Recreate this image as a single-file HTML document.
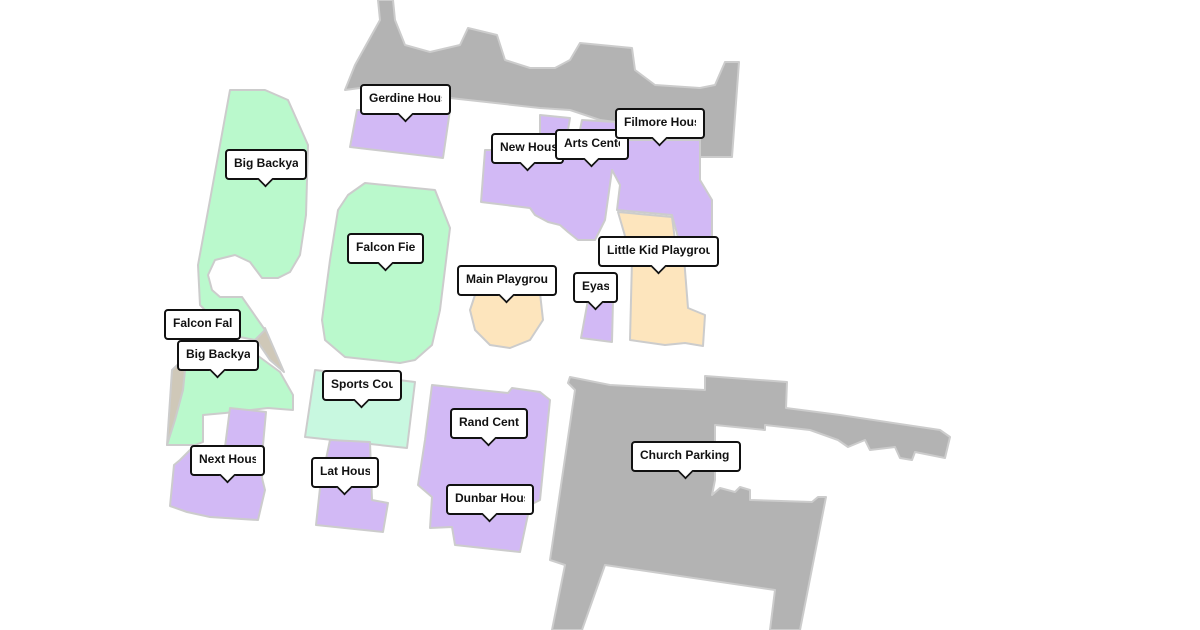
<!DOCTYPE html>
<html><head><meta charset="utf-8"><style>
html,body{margin:0;padding:0;background:#fff;width:1200px;height:630px;overflow:hidden;position:relative;font-family:"Liberation Sans",sans-serif}
svg{position:absolute;left:0;top:0}
.l{position:absolute;background:#fff;border:2px solid #111;border-radius:4px;box-sizing:border-box;height:31px;font-weight:bold;font-size:12px;line-height:25px;padding:0 7px;white-space:nowrap;color:#111}
.l span{display:block;overflow:hidden;width:100%}
.l:after{content:"";position:absolute;left:50%;bottom:-8px;margin-left:-7px;width:11px;height:11px;background:#fff;border-right:2px solid #111;border-bottom:2px solid #111;transform:rotate(45deg) scale(0.85,0.85);transform-origin:center}
.n:after{display:none}
</style></head><body>
<svg width="1200" height="630" viewBox="0 0 1200 630">
<g stroke="#cccccc" stroke-width="2" stroke-linejoin="round">
<polygon fill="#b3b3b3" points="378,0 393,0 395,20 405,45 430,52 460,45 468,28 497,35 505,60 530,68 555,68 570,60 580,43 632,48 635,70 655,85 700,88 715,85 725,62 739,62 732,157 700,157 700,135 660,128 600,120 570,110 540,108 450,98 360,88 345,90 355,65 380,20"/>
<polygon fill="#b3b3b3" points="570,377 610,385 705,390 705,376 787,382 786,408 840,415 940,430 950,437 945,458 915,452 912,460 900,458 895,447 870,450 865,440 848,447 838,440 810,430 765,425 765,430 715,425 715,480 712,495 720,488 735,492 740,487 750,490 750,500 812,502 818,497 826,497 800,630 770,630 775,590 605,565 582,630 552,630 565,565 550,560 575,390 568,383"/>
<polygon fill="#cfc8b8" points="172,370 188,355 182,440 167,445"/>
<polygon fill="#cfc8b8" points="255,338 265,328 284,372 270,360"/>
<polygon fill="#baf9cc" points="230,90 265,90 288,100 308,145 306,215 300,255 290,272 278,278 262,278 250,262 235,255 215,260 208,275 212,290 220,297 242,297 265,330 255,340 230,335 200,305 198,265 210,200"/>
<polygon fill="#baf9cc" points="187,350 250,350 280,372 293,395 293,410 268,408 225,413 203,415 203,442 195,445 167,445 175,420 183,390"/>
<polygon fill="#baf9cc" points="365,183 435,190 450,228 440,310 432,345 415,360 400,363 345,357 325,340 322,320 330,260 338,210 348,195"/>
<polygon fill="#d2b9f5" points="357,110 450,110 443,158 350,147"/>
<polygon fill="#d2b9f5" points="485,150 540,150 540,115 570,118 568,130 580,130 582,120 615,122 618,140 700,140 700,180 712,200 712,240 700,250 680,245 672,215 617,210 620,185 612,170 605,220 595,240 578,240 568,232 560,225 548,222 535,215 530,208 481,202"/>
<polygon fill="#fde5bd" points="618,212 672,217 675,240 683,245 688,308 705,315 703,346 685,343 665,345 630,340 632,260"/>
<polygon fill="#fde5bd" points="475,295 540,293 543,320 530,340 510,348 490,345 475,330 470,310"/>
<polygon fill="#d2b9f5" points="588,300 613,300 612,342 581,338"/>
<polygon fill="#c8f8e0" points="315,370 415,382 407,448 305,437"/>
<polygon fill="#d2b9f5" points="330,440 370,442 372,500 388,503 383,532 316,525 320,488"/>
<polygon fill="#d2b9f5" points="432,385 508,393 512,388 540,392 550,400 540,500 530,505 520,552 455,545 452,527 430,528 432,497 418,485 425,440"/>
<polygon fill="#d2b9f5" points="230,408 266,412 263,445 262,478 265,490 258,520 210,517 187,512 170,506 174,465 180,460 193,447 225,447"/>
</g>
</svg>
<div class="l" style="left:360px;top:84px;width:91px"><span>Gerdine House</span></div>
<div class="l" style="left:225px;top:149px;width:82px"><span>Big Backyard</span></div>
<div class="l" style="left:491px;top:133px;width:73px"><span>New House</span></div>
<div class="l" style="left:555px;top:129px;width:74px"><span>Arts Center</span></div>
<div class="l" style="left:615px;top:108px;width:90px"><span>Filmore House</span></div>
<div class="l" style="left:347px;top:233px;width:77px"><span>Falcon Field</span></div>
<div class="l" style="left:598px;top:236px;width:121px"><span>Little Kid Playground</span></div>
<div class="l" style="left:457px;top:265px;width:100px"><span>Main Playground</span></div>
<div class="l" style="left:573px;top:272px;width:45px"><span>Eyas</span></div>
<div class="l n" style="left:164px;top:309px;width:77px"><span>Falcon Falls</span></div>
<div class="l" style="left:177px;top:340px;width:82px"><span>Big Backyard</span></div>
<div class="l" style="left:322px;top:370px;width:80px"><span>Sports Court</span></div>
<div class="l" style="left:450px;top:408px;width:78px"><span>Rand Center</span></div>
<div class="l" style="left:631px;top:441px;width:110px"><span>Church Parking Lot</span></div>
<div class="l" style="left:190px;top:445px;width:75px"><span>Next House</span></div>
<div class="l" style="left:311px;top:457px;width:68px"><span>Lat House</span></div>
<div class="l" style="left:446px;top:484px;width:88px"><span>Dunbar House</span></div>
</body></html>
